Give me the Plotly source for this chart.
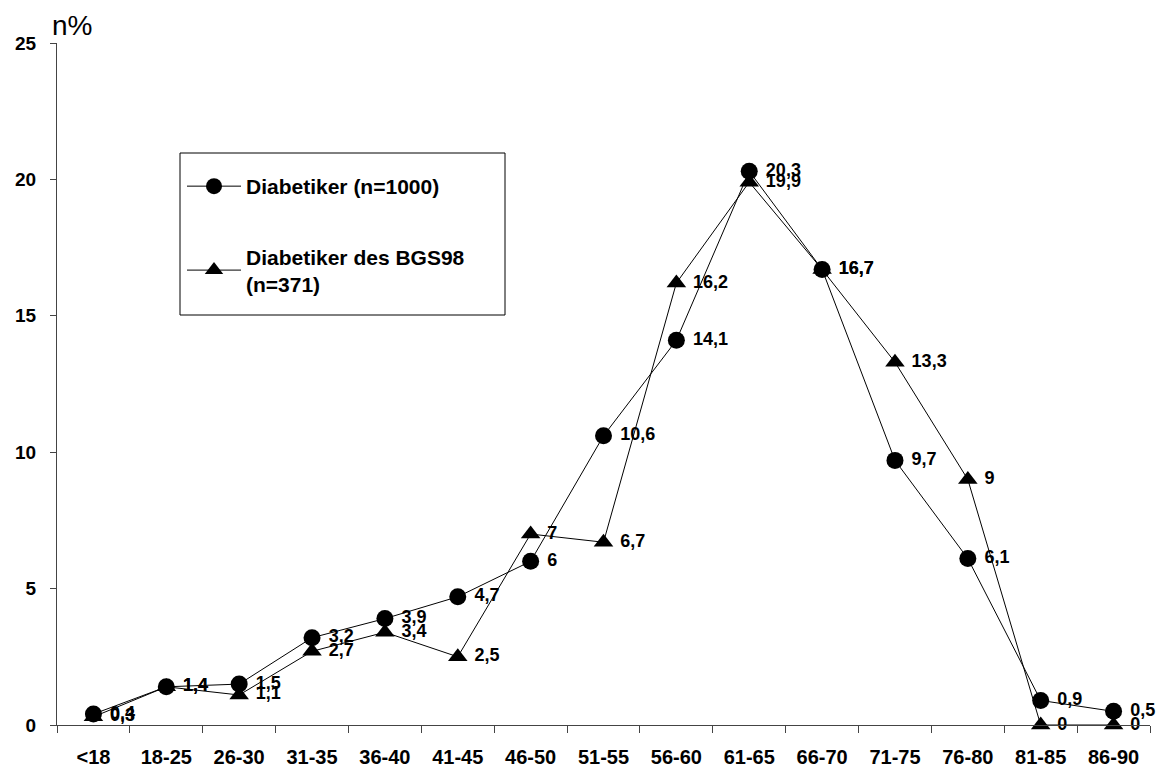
import plotly.graph_objects as go

categories = ["<18", "18-25", "26-30", "31-35", "36-40", "41-45", "46-50", "51-55",
              "56-60", "61-65", "66-70", "71-75", "76-80", "81-85", "86-90"]
diab_1000 = [0.4, 1.4, 1.5, 3.2, 3.9, 4.7, 6, 10.6, 14.1, 20.3, 16.7, 9.7, 6.1, 0.9, 0.5]
diab_bgs98 = [0.3, 1.4, 1.1, 2.7, 3.4, 2.5, 7, 6.7, 16.2, 19.9, 16.7, 13.3, 9, 0, 0]
y_ticks = [0, 5, 10, 15, 20, 25]

FONT = "Liberation Sans, Arial, sans-serif"


def fmt(v):
    return "\u00a0<b>" + ("%g" % v).replace(".", ",") + "</b>"


fig = go.Figure()
fig.add_trace(go.Scatter(
    x=categories, y=diab_1000, mode="lines+markers+text",
    name="<b>Diabetiker (n=1000)</b>",
    line=dict(color="black", width=1),
    marker=dict(symbol="circle", size=17, color="black"),
    text=[fmt(v) for v in diab_1000], textposition="middle right",
    textfont=dict(family=FONT, size=18, color="black"),
    legendgroup="a", cliponaxis=False,
))
fig.add_trace(go.Scatter(
    x=categories, y=diab_bgs98, mode="lines+markers+text",
    name="<b>Diabetiker des BGS98<br>(n=371)</b>",
    line=dict(color="black", width=1),
    marker=dict(symbol="triangle-up", size=17, color="black"),
    text=[fmt(v) for v in diab_bgs98], textposition="middle right",
    textfont=dict(family=FONT, size=18, color="black"),
    legendgroup="b", cliponaxis=False,
))

PW = 1150 - 57
PH = 725 - 43

fig.update_layout(
    width=1156, height=769,
    margin=dict(l=57, r=6, t=43, b=44),
    paper_bgcolor="white", plot_bgcolor="white",
    font=dict(family=FONT, color="black"),
    showlegend=True,
    legend=dict(
        x=(182 - 57) / PW, y=1 - (166 - 43) / PH,
        xanchor="left", yanchor="top",
        bgcolor="rgba(0,0,0,0)", borderwidth=0,
        font=dict(family=FONT, size=21, color="black"),
        tracegroupgap=40, traceorder="grouped",
        itemwidth=54,
    ),
    xaxis=dict(
        type="category", range=[-0.5, 14.5], automargin=False,
        tickvals=categories, ticktext=["<b>" + c + "</b>" for c in categories],
        showline=True, linecolor="#444", linewidth=1,
        ticks="outside", ticklen=7, tickcolor="#444", tickson="boundaries",
        ticklabelstandoff=14,
        tickfont=dict(family=FONT, size=20, color="black"),
        showgrid=False, zeroline=False,
    ),
    yaxis=dict(
        range=[0, 25], tickvals=y_ticks, ticktext=["<b>%d</b>" % t for t in y_ticks],
        automargin=False,
        showline=True, linecolor="#444", linewidth=1,
        ticks="outside", ticklen=6, tickcolor="#444",
        ticklabelstandoff=10,
        tickfont=dict(family=FONT, size=19, color="black"),
        showgrid=False, zeroline=False,
    ),
    shapes=[dict(
        type="rect", xref="paper", yref="paper",
        x0=(180 - 57) / PW, x1=(505 - 57) / PW,
        y0=1 - (315 - 43) / PH, y1=1 - (153 - 43) / PH,
        line=dict(color="black", width=1), fillcolor="rgba(0,0,0,0)",
    )],
    annotations=[dict(
        text="n%", xref="paper", yref="paper",
        x=-0.006, y=1.0, xanchor="left", yanchor="bottom",
        showarrow=False, font=dict(family=FONT, size=28, color="black"),
    )],
)

fig.write_html("out.html")
